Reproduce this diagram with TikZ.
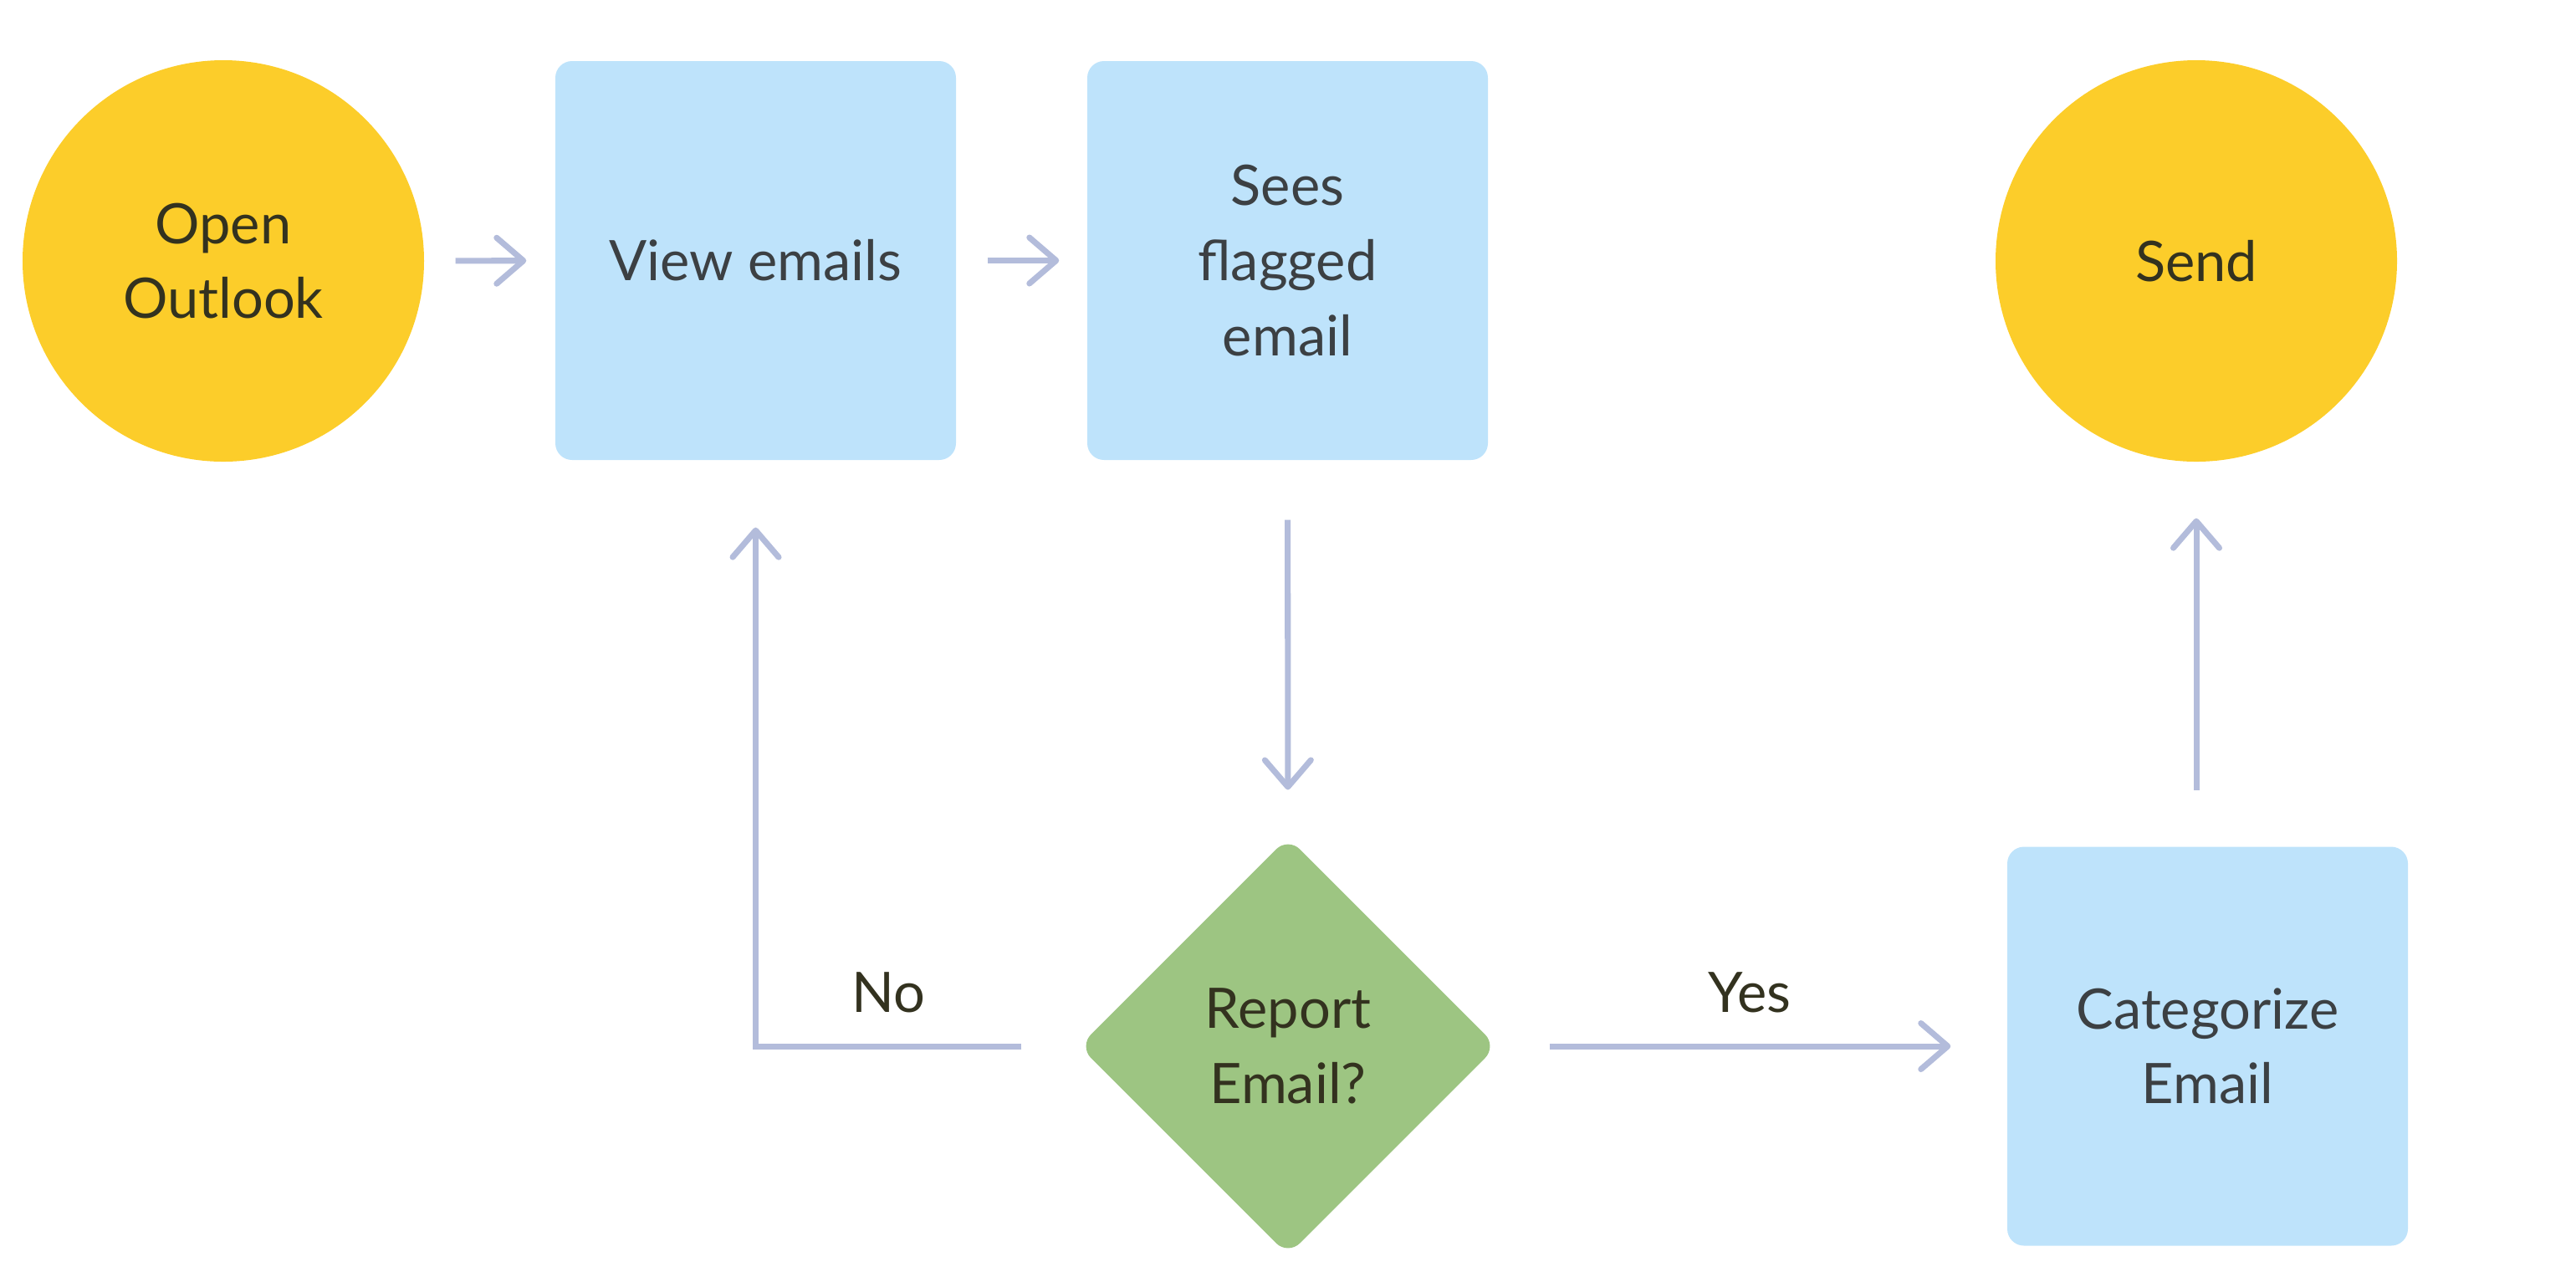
\documentclass[tikz,border=0pt]{standalone}
\usepackage{fontspec}
\setmainfont{Lato}
\usetikzlibrary{arrows.meta,shapes.geometric}

\definecolor{startyellow}{HTML}{FCCD2A}
\definecolor{stepblue}{HTML}{BEE3FB}
\definecolor{askgreen}{HTML}{9DC582}
\definecolor{linkgray}{HTML}{B3BCDB}
\definecolor{textgray}{HTML}{3C4043}
\definecolor{textdark}{HTML}{33321F}

\tikzset{
  every node/.style={font=\fontsize{19}{25.5}\selectfont, align=center},
  terminal/.style={circle, fill=startyellow, minimum size=4.8cm, inner sep=0pt, text=textdark},
  stepbox/.style={rectangle, rounded corners=0.2cm, fill=stepblue, minimum width=4.79cm, minimum height=4.77cm, inner sep=0pt, text=textgray},
  askbox/.style={diamond, rounded corners=0.2cm, fill=askgreen, minimum width=5.0cm, minimum height=5.0cm, inner sep=0pt, text=textdark},
  flow/.style={draw=linkgray, line width=2pt, -{Straight Barb[length=0.32cm, width=0.55cm, line cap=round, line join=round]}},
  answer/.style={text=textdark}
}

\begin{document}
\begin{tikzpicture}
    \useasboundingbox (0,0) rectangle (30.8,-15.2);

    % Top row
    \node[terminal] (outlook) at (2.67,-3.12) {Open\\Outlook};
    \node[stepbox] (view) at (9.035,-3.115) {View emails};
    \node[stepbox] (flagged) at (15.395,-3.115) {Sees\\flagged\\email};
    \node[terminal] (send) at (26.26,-3.12) {Send};

    % Bottom row
    \node[askbox] (report) at (15.40,-12.51) {Report\\Email?};
    \node[stepbox] (categorize) at (26.395,-12.51) {Categorize\\Email};

    % Connectors
    \draw[flow, shorten <=0.37cm, shorten >=0.34cm] (outlook) -- (view);
    \draw[flow, shorten <=0.37cm, shorten >=0.33cm] (view) -- (flagged);
    \draw[flow, shorten <=0.71cm, shorten >=0.56cm] (flagged) -- (report);
    \draw[flow, shorten <=0.62cm, shorten >=0.67cm] (report) -- (categorize);
    \draw[flow, shorten <=0.67cm, shorten >=0.67cm] (send |- categorize.north) -- (send);
    \draw[flow, shorten <=0.68cm, shorten >=0.80cm] (report.west) -| (view.south);

    % Answers
    \node[answer] (no) at (10.62,-11.87) {No};
    \node[answer] (yes) at (20.92,-11.87) {Yes};
\end{tikzpicture}
\end{document}
